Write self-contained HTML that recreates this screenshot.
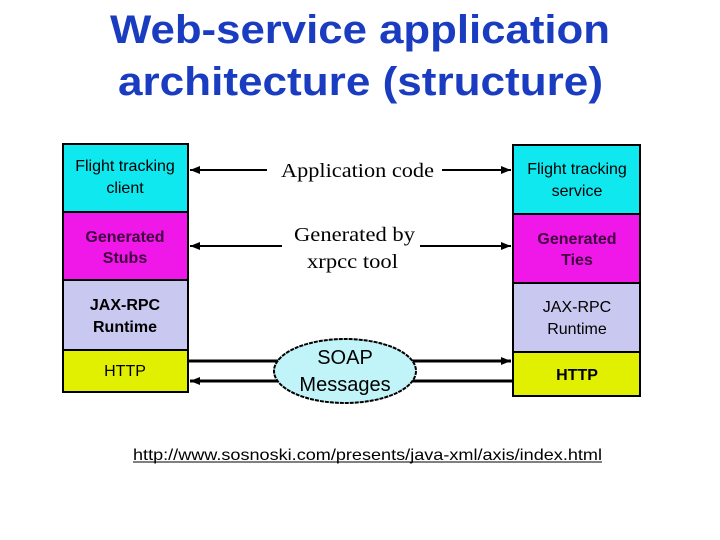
<!DOCTYPE html>
<html><head><meta charset="utf-8"><style>
html,body{margin:0;padding:0;background:#fff;width:720px;height:540px;overflow:hidden}
svg text{font-family:"Liberation Sans",sans-serif}
</style></head><body>
<svg width="720" height="540" xmlns="http://www.w3.org/2000/svg">
<defs>
<marker id="ah" markerWidth="10" markerHeight="8" refX="10" refY="4" orient="auto" markerUnits="userSpaceOnUse">
<path d="M0,0 L10,4 L0,8 Z" fill="#000"/></marker>
</defs>
<g fill="#1a3cc0" font-weight="bold" font-size="40">
<text x="110" y="43" textLength="500" lengthAdjust="spacingAndGlyphs">Web-service application</text>
<text x="118" y="95" textLength="485" lengthAdjust="spacingAndGlyphs">architecture (structure)</text>
</g>
<g stroke="#000" stroke-width="2">
<rect x="63" y="144" width="125" height="68" fill="#10e8f0"/>
<rect x="63" y="212" width="125" height="68" fill="#f018e8"/>
<rect x="63" y="280" width="125" height="70" fill="#c8c8f0"/>
<rect x="63" y="350" width="125" height="42" fill="#e0f000"/>
<rect x="513" y="145" width="127" height="69" fill="#10e8f0"/>
<rect x="513" y="214" width="127" height="69" fill="#f018e8"/>
<rect x="513" y="283" width="127" height="69" fill="#c8c8f0"/>
<rect x="513" y="352" width="127" height="44" fill="#e0f000"/>
</g>
<g font-size="16" text-anchor="middle" fill="#000" font-weight="bold">
<text x="125" y="171" font-weight="normal">Flight tracking</text><text x="125" y="193" font-weight="normal">client</text>
<text x="125" y="242" fill="#400040">Generated</text><text x="125" y="263" fill="#400040">Stubs</text>
<text x="125" y="310">JAX-RPC</text><text x="125" y="332">Runtime</text>
<text x="125" y="376" font-weight="normal">HTTP</text>
<text x="577" y="174" font-weight="normal">Flight tracking</text><text x="577" y="196" font-weight="normal">service</text>
<text x="577" y="244" fill="#400040">Generated</text><text x="577" y="265" fill="#400040">Ties</text>
<text x="577" y="312" font-weight="normal">JAX-RPC</text><text x="577" y="334" font-weight="normal">Runtime</text>
<text x="577" y="380">HTTP</text>
</g>
<g font-size="20" fill="#000">
<text x="281" y="177" style="font-family:'Liberation Serif',serif" textLength="153" lengthAdjust="spacingAndGlyphs">Application code</text>
<text x="294" y="241" style="font-family:'Liberation Serif',serif" textLength="121" lengthAdjust="spacingAndGlyphs">Generated by</text>
<text x="307" y="268" style="font-family:'Liberation Serif',serif" textLength="91" lengthAdjust="spacingAndGlyphs">xrpcc tool</text>
</g>
<g stroke="#000" stroke-width="2">
<line x1="267" y1="170" x2="190" y2="170" marker-end="url(#ah)"/>
<line x1="442" y1="170" x2="511" y2="170" marker-end="url(#ah)"/>
<line x1="282" y1="246" x2="190" y2="246" marker-end="url(#ah)"/>
<line x1="420" y1="246" x2="511" y2="246" marker-end="url(#ah)"/>
</g>
<g stroke="#000" stroke-width="3">
<line x1="188" y1="361" x2="280" y2="361"/>
<line x1="410" y1="361" x2="511" y2="361" marker-end="url(#ah)"/>
<line x1="278" y1="381" x2="190" y2="381" marker-end="url(#ah)"/>
<line x1="412" y1="381" x2="513" y2="381"/>
</g>
<ellipse cx="345" cy="371" rx="71" ry="32" fill="#c0f4f8" stroke="#000" stroke-width="2" stroke-dasharray="4,1"/>
<text x="345" y="364" font-size="20" text-anchor="middle">SOAP</text>
<text x="345" y="391" font-size="20" text-anchor="middle">Messages</text>
<text x="133" y="460" font-size="16" textLength="469" lengthAdjust="spacingAndGlyphs" fill="#000">http://www.sosnoski.com/presents/java-xml/axis/index.html</text>
<line x1="133" y1="462" x2="602" y2="462" stroke="#000" stroke-width="1"/>
</svg>
</body></html>
